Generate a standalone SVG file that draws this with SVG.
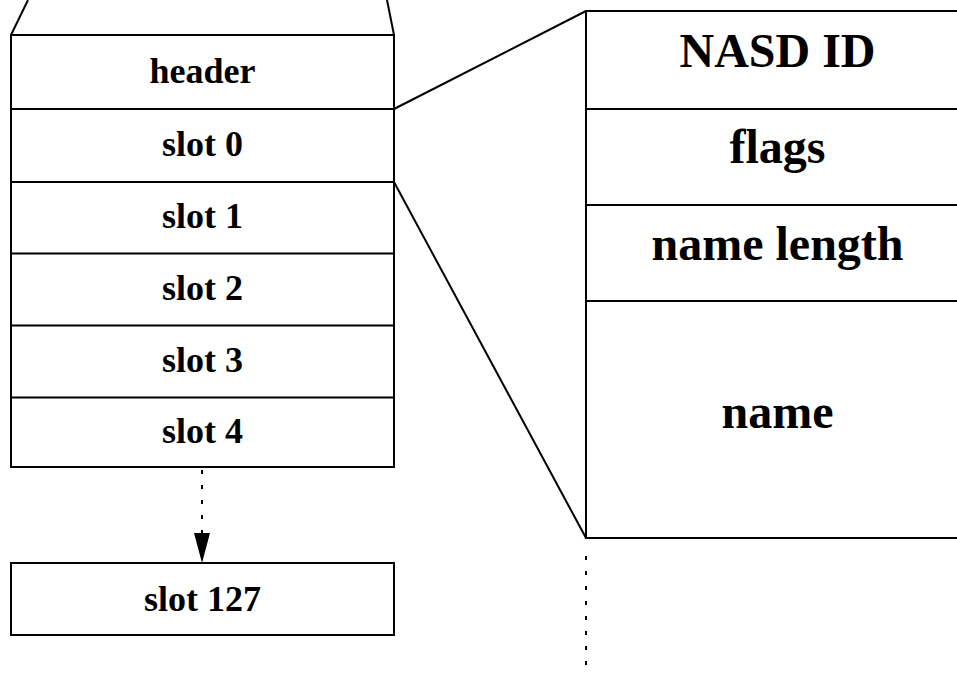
<svg xmlns="http://www.w3.org/2000/svg" width="957" height="683" viewBox="0 0 957 683">
  <style>
    .box { fill: #fff; stroke: #000; stroke-width: 2; }
    .rule { stroke: #000; stroke-width: 2; fill: none; }
    .dot { stroke: #000; stroke-width: 2; fill: none; stroke-dasharray: 4 11; }
    .lbl { font-family: "Liberation Serif", "Times New Roman", serif; font-weight: bold; fill: #000; text-anchor: middle; }
    .s { font-size: 36px; }
    .l { font-size: 48px; }
  </style>
  <defs>
    <marker id="head" markerUnits="userSpaceOnUse" markerWidth="18" markerHeight="32" refX="9" refY="30" orient="auto-start-reverse" viewBox="0 0 18 32">
      <path d="M1,0 L17,0 L9,30 Z" fill="#000"/>
    </marker>
  </defs>

  <rect width="957" height="683" fill="#fff"/>

  <!-- page table: header plus slots 0..4 -->
  <g id="page-table">
    <rect class="box" x="11" y="35" width="383" height="432"/>
    <line class="rule" x1="11" y1="109" x2="394" y2="109"/>
    <line class="rule" x1="11" y1="182" x2="394" y2="182"/>
    <line class="rule" x1="11" y1="253.5" x2="394" y2="253.5"/>
    <line class="rule" x1="11" y1="325.5" x2="394" y2="325.5"/>
    <line class="rule" x1="11" y1="397.5" x2="394" y2="397.5"/>
  </g>
  <g id="header"><text class="lbl s" x="202.5" y="83">header</text></g>
  <g id="slot0"><text class="lbl s" x="202.5" y="156">slot 0</text></g>
  <g id="slot1"><text class="lbl s" x="202.5" y="228">slot 1</text></g>
  <g id="slot2"><text class="lbl s" x="202.5" y="300">slot 2</text></g>
  <g id="slot3"><text class="lbl s" x="202.5" y="372">slot 3</text></g>
  <g id="slot4"><text class="lbl s" x="202.5" y="443">slot 4</text></g>

  <g id="slot127">
    <rect class="box" x="11" y="563" width="383" height="72"/>
    <text class="lbl s" x="202.5" y="611">slot 127</text>
  </g>

  <!-- slot entry layout -->
  <g id="entry">
    <rect class="box" x="586" y="11" width="384" height="527"/>
    <line class="rule" x1="586" y1="109" x2="970" y2="109"/>
    <line class="rule" x1="586" y1="205" x2="970" y2="205"/>
    <line class="rule" x1="586" y1="301" x2="970" y2="301"/>
  </g>
  <g id="nasd-id"><text class="lbl l" x="777.5" y="67">NASD ID</text></g>
  <g id="flags"><text class="lbl l" x="777.5" y="163">flags</text></g>
  <g id="name-length"><text class="lbl l" x="777.5" y="260">name length</text></g>
  <g id="name"><text class="lbl l" x="777.5" y="428">name</text></g>

  <g id="connectors">
    <!-- page continues above -->
    <line class="rule" x1="11" y1="35" x2="28" y2="0"/>
    <line class="rule" x1="394" y1="35" x2="387" y2="0"/>
    <!-- slot 0 expanded into the entry layout -->
    <line class="rule" x1="394" y1="109" x2="586" y2="11"/>
    <line class="rule" x1="394" y1="182" x2="586" y2="538"/>
    <!-- remaining slots -->
    <line class="dot" x1="202" y1="470" x2="202" y2="533"/>
    <path d="M194,533 L210,533 L202,563 Z" fill="#000"/>
    <!-- entry continues below -->
    <line class="dot" x1="586" y1="556" x2="586" y2="673"/>
  </g>
</svg>
